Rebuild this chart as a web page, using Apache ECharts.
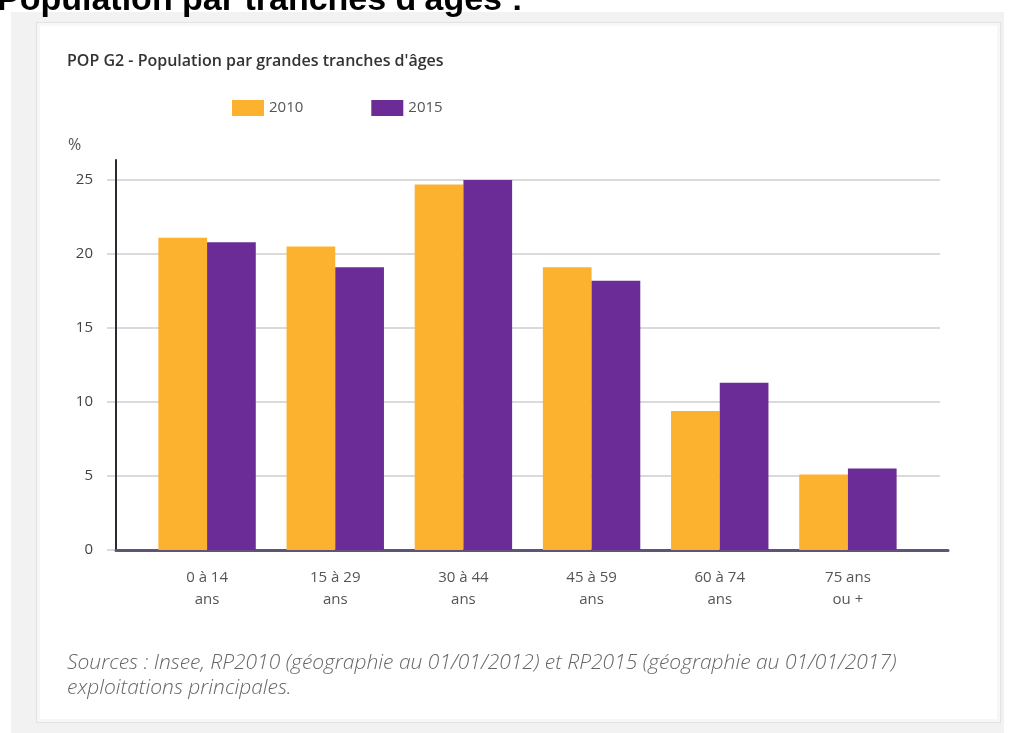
<!DOCTYPE html>
<html lang="fr">
<head>
<meta charset="utf-8">
<title>Population par tranches d'âges</title>
<script src="https://cdn.jsdelivr.net/npm/echarts@6/dist/echarts.min.js"></script>
<style>
  html, body { margin: 0; padding: 0; background: #ffffff; overflow: hidden; }
  #page { position: relative; width: 1013px; height: 733px; }
  #heading {
    position: absolute; left: -3px; top: -19px;
    font: bold 34px "Liberation Sans", Arial, sans-serif; line-height: 1; color: #000;
    white-space: nowrap; z-index: 3;
  }
  #frame { position: absolute; left: 11px; top: 12px; width: 993px; height: 721px; background: #f2f2f2; }
  #panel {
    position: absolute; left: 36px; top: 22px; width: 963px; height: 699px;
    background: #fff; border: 1px solid #e2e2e2; box-shadow: inset 0 0 0 3px #f7f7f7;
  }
  #chart { position: absolute; left: 0; top: 0; width: 1013px; height: 733px; z-index: 2; }
</style>
</head>
<body>
<div id="page">
  <div id="frame"></div>
  <div id="panel"></div>
  <div id="heading">Population par tranches d'âges :</div>
  <div id="chart"></div>
</div>
<script>
// Age groups and shares of the population (%)
const categories = ['0 à 14\nans', '15 à 29\nans', '30 à 44\nans', '45 à 59\nans', '60 à 74\nans', '75 ans\nou +'];
const years = ['2010', '2015'];
const values2010 = [21.1, 20.5, 24.7, 19.1, 9.4, 5.1];
const values2015 = [20.8, 19.1, 25.0, 18.2, 11.3, 5.5];
const yTicks = [0, 5, 10, 15, 20, 25];

const ORANGE = '#fcb12f';
const PURPLE = '#6b2c97';
const FONT = '"Open Sans", "Noto Sans", sans-serif';

const yMax = yTicks[yTicks.length - 1];
const yStep = yTicks[1] - yTicks[0];

const chart = echarts.init(document.getElementById('chart'), null, { renderer: 'canvas' });

chart.setOption({
  backgroundColor: 'transparent',
  animation: false,
  textStyle: { fontFamily: FONT },
  title: [
    {
      text: 'POP G2 - Population par grandes tranches d\'âges',
      left: 62, top: 48,
      textStyle: { fontFamily: FONT, fontSize: 16, fontWeight: 600, color: '#333' }
    },
    {
      text: '%',
      left: 63, top: 132,
      textStyle: { fontFamily: FONT, fontSize: 16, fontWeight: 'normal', color: '#555' }
    },
    {
      text: 'Sources : Insee, RP2010 (géographie au 01/01/2012) et RP2015 (géographie au 01/01/2017)\nexploitations principales.',
      left: 62, top: 646,
      textStyle: { fontFamily: FONT, fontSize: 21, fontStyle: 'italic', fontWeight: 300, color: '#666', lineHeight: 25 }
    }
  ],
  legend: {
    data: years,
    left: 227, top: 95,
    icon: 'rect',
    itemWidth: 32, itemHeight: 16,
    itemGap: 68,
    selectedMode: false,
    textStyle: { fontFamily: FONT, fontSize: 15, color: '#555', width: 60, padding: [0, 0, 0, 0] }
  },
  grid: [
    // axis lines frame
    { left: 116, right: 65, top: 160, bottom: 183 },
    // horizontal guide lines and y labels
    { left: 107, right: 73, top: 180, bottom: 183 },
    // bars and category labels
    { left: 143, right: 101, top: 180, bottom: 183 }
  ],
  xAxis: [
    {
      gridIndex: 0, type: 'category', data: categories,
      axisLine: { show: true, lineStyle: { color: '#5e5478', width: 3 } },
      axisTick: { show: false }, axisLabel: { show: false }, splitLine: { show: false }
    },
    {
      gridIndex: 1, type: 'category', data: categories, show: false
    },
    {
      gridIndex: 2, type: 'category', data: categories,
      axisLine: { show: false }, axisTick: { show: false },
      axisLabel: { fontFamily: FONT, fontSize: 15, color: '#555', lineHeight: 22, margin: 17, interval: 0 }
    }
  ],
  yAxis: [
    {
      gridIndex: 0, type: 'value', min: 0, max: yMax * 390 / 370,
      axisLine: { show: true, lineStyle: { color: '#2a2a33', width: 2 } },
      axisTick: { show: false }, axisLabel: { show: false }, splitLine: { show: false }
    },
    {
      gridIndex: 1, type: 'value', min: 0, max: yMax, interval: yStep,
      axisLine: { show: false }, axisTick: { show: false },
      axisLabel: { fontFamily: FONT, fontSize: 15, color: '#444', margin: 14 },
      splitLine: { show: true, lineStyle: { color: '#dadada', width: 2 } }
    },
    {
      gridIndex: 2, type: 'value', min: 0, max: yMax, interval: yStep, show: false,
      splitLine: { show: false }
    }
  ],
  series: [
    {
      name: years[0], type: 'bar', xAxisIndex: 2, yAxisIndex: 2,
      data: values2010, itemStyle: { color: ORANGE },
      barGap: '0%', barCategoryGap: '24%', z: 3
    },
    {
      name: years[1], type: 'bar', xAxisIndex: 2, yAxisIndex: 2,
      data: values2015, itemStyle: { color: PURPLE },
      barGap: '0%', barCategoryGap: '24%', z: 3
    }
  ]
});
</script>
</body>
</html>
